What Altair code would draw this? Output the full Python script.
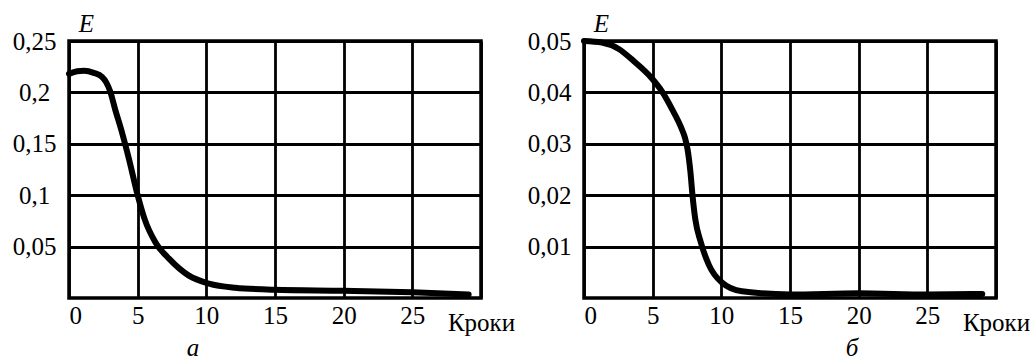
import altair as alt
import pandas as pd

# Panel "а": error E versus iteration step
steps_a = [0, 0.6, 1.1, 1.8, 2.4, 2.7, 3.0, 3.35, 3.86, 4.37, 5.0, 5.5, 6.3, 7.3,
           8.7, 10.2, 12.1, 15, 20, 25, 29.1]
err_a = [0.218, 0.2205, 0.221, 0.219, 0.215, 0.210, 0.201, 0.184, 0.161, 0.135,
         0.100, 0.077, 0.054, 0.038, 0.022, 0.014, 0.0100, 0.0080, 0.0070, 0.0055,
         0.0035]

# Panel "б"
steps_b = [0, 1.3, 2.5, 3.7, 4.95, 5.7, 6.4, 7.1, 7.35, 7.55, 7.75, 7.9, 8.1, 8.5,
           9.1, 10.0, 11.5, 15, 20, 25, 29]
err_b = [0.0500, 0.0497, 0.0485, 0.0459, 0.0427, 0.0401, 0.0368, 0.0330, 0.0312,
         0.0288, 0.0245, 0.0200, 0.0154, 0.0109, 0.0064, 0.0031, 0.0013, 0.0007,
         0.0009, 0.0007, 0.0008]

x_ticks = [0, 5, 10, 15, 20, 25, 30]
y_ticks_a = [0.05, 0.10, 0.15, 0.20, 0.25]
y_ticks_b = [0.01, 0.02, 0.03, 0.04, 0.05]

FONT = "Liberation Serif"
FS = 25
W, H = 412, 257


def panel(steps, errs, y_max, y_ticks, caption, cap_dx):
    df = pd.DataFrame({"step": steps, "E": errs})
    x_axis = alt.Axis(
        values=x_ticks,
        grid=True,
        ticks=False,
        domain=False,
        labelExpr="datum.value == 30 ? '' : datum.label",
        labelBaseline="alphabetic",
        labelPadding=25,
        title="Кроки",
        titleX=W,
        titleY=32,
        titleAlign="center",
        titleBaseline="alphabetic",
        titleFontWeight="normal",
    )
    y_axis = alt.Axis(
        values=y_ticks,
        grid=True,
        ticks=False,
        domain=False,
        labelExpr="replace(format(datum.value, '.2~f'), '.', ',')",
        labelAlign="center",
        labelBaseline="middle",
        labelPadding=35,
        title="E",
        titleAngle=0,
        titleX=17,
        titleY=-10,
        titleAlign="center",
        titleBaseline="alphabetic",
        titleFontStyle="italic",
        titleFontWeight="normal",
    )
    return (
        alt.Chart(df)
        .mark_line(color="black", strokeWidth=6, interpolate="monotone",
                   strokeCap="round", strokeJoin="round", clip=False)
        .encode(
            x=alt.X("step:Q", scale=alt.Scale(domain=[0, 30], nice=False), axis=x_axis),
            y=alt.Y("E:Q", scale=alt.Scale(domain=[0, y_max], nice=False), axis=y_axis),
        )
        .properties(
            width=W,
            height=H,
            title=alt.TitleParams(
                caption,
                orient="bottom",
                anchor="start",
                align="center",
                frame="group",
                dx=cap_dx,
                dy=1,
                font=FONT,
                fontSize=FS,
                fontStyle="italic",
                fontWeight="normal",
                color="black",
                offset=0,
            ),
        )
    )


left = panel(steps_a, err_a, 0.25, y_ticks_a, "а", 124)
right = panel(steps_b, err_b, 0.05, y_ticks_b, "б", 268)

chart = (
    alt.hconcat(left, right, spacing=103, bounds="flush")
    .properties(padding={"left": 10, "top": 9, "right": 0, "bottom": 0},
                background="white")
    .configure_view(stroke="black", strokeWidth=3.5)
    .configure_axis(
        gridColor="black",
        gridWidth=2.8,
        gridOpacity=1,
        labelFont=FONT,
        labelFontSize=FS,
        labelColor="black",
        titleFont=FONT,
        titleFontSize=FS,
        titleColor="black",
    )
)

chart.save("out.html", embed_options={"renderer": "svg", "actions": False})
